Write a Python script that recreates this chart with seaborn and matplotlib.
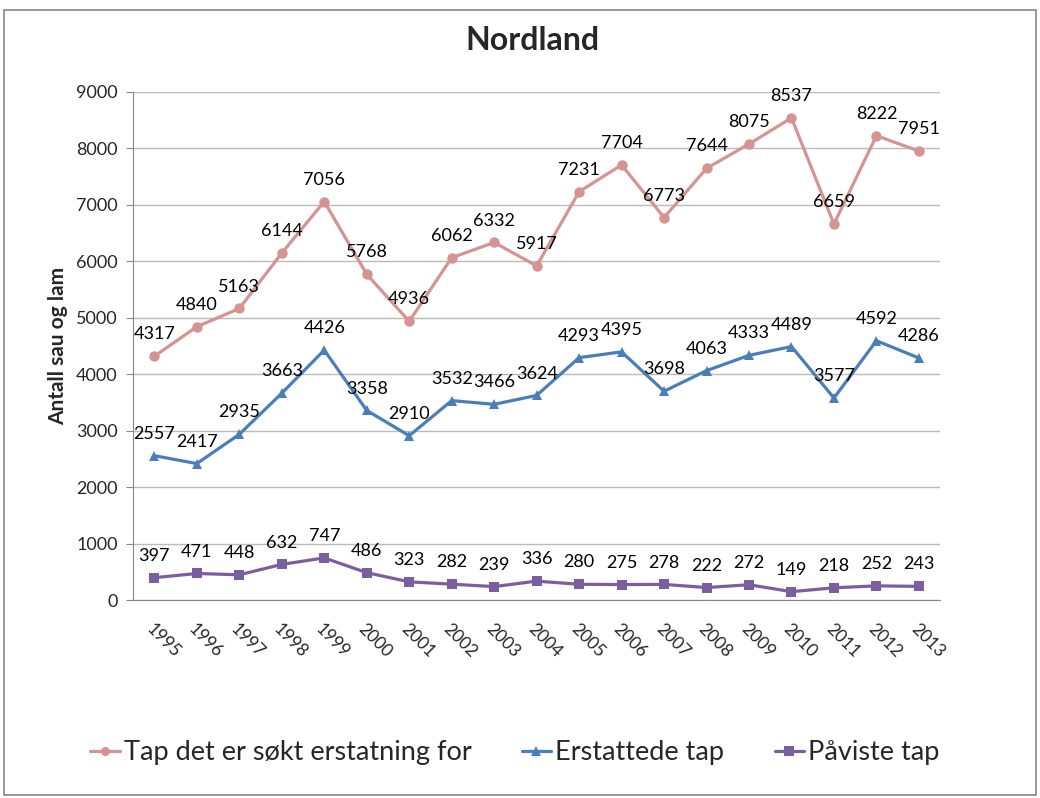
import matplotlib
matplotlib.use("Agg")
import matplotlib.pyplot as plt
from matplotlib.patches import Rectangle
import seaborn as sns
import pandas as pd
import numpy as np

sns.set_style("white")
plt.rcParams['font.family'] = ['Lato', 'DejaVu Sans']

years = [str(y) for y in range(1995, 2014)]
sokt = [4317, 4840, 5163, 6144, 7056, 5768, 4936, 6062, 6332, 5917,
        7231, 7704, 6773, 7644, 8075, 8537, 6659, 8222, 7951]
erstattede = [2557, 2417, 2935, 3663, 4426, 3358, 2910, 3532, 3466, 3624,
              4293, 4395, 3698, 4063, 4333, 4489, 3577, 4592, 4286]
paviste = [397, 471, 448, 632, 747, 486, 323, 282, 239, 336,
           280, 275, 278, 222, 272, 149, 218, 252, 243]

names = ["Tap det er søkt erstatning for", "Erstattede tap", "Påviste tap"]
colors = ["#D69393", "#4A7EBB", "#7B5E9F"]
markers = ["o", "^", "s"]

rows = []
for name, vals in zip(names, [sokt, erstattede, paviste]):
    for i, v in enumerate(vals):
        rows.append({"pos": i, "year": years[i], "value": v, "serie": name})
df = pd.DataFrame(rows)

fig = plt.figure(figsize=(10.4, 7.98), dpi=100)
ax = fig.add_axes([0.128, 0.248, 0.776, 0.637])

sns.lineplot(data=df, x="pos", y="value", hue="serie", style="serie",
             hue_order=names, style_order=names,
             palette=dict(zip(names, colors)),
             markers=dict(zip(names, markers)), dashes=False,
             linewidth=2.3, markersize=7.5, markeredgewidth=0, ax=ax,
             legend=False)

for name, vals, c in zip(names, [sokt, erstattede, paviste], colors):
    for i, v in enumerate(vals):
        ax.annotate(str(v), (i, v), xytext=(0, 10), textcoords="offset points",
                    ha="center", va="bottom", fontsize=13, color="black")

ax.set_xlim(-0.5, len(years) - 0.5)
ax.set_ylim(0, 9000)
ax.set_yticks(range(0, 9001, 1000))
ax.set_yticklabels([str(v) for v in range(0, 9001, 1000)], fontsize=13)
ax.set_xticks(range(len(years)))
ax.set_xticklabels(years, rotation=-45, ha="left", rotation_mode="anchor",
                   fontsize=12.5)
ax.set_xticks(np.arange(-0.5, len(years), 1), minor=True)
ax.tick_params(axis="x", which="major", length=0, pad=15)
ax.tick_params(axis="x", which="minor", length=6, color="#888888")
ax.tick_params(axis="y", length=5, color="#888888", left=True, pad=6)
ax.grid(axis="y", color="#BBBBBB", linewidth=1)
ax.set_axisbelow(True)
for s in ["top", "right"]:
    ax.spines[s].set_visible(False)
for s in ["left", "bottom"]:
    ax.spines[s].set_color("#888888")
ax.set_xlabel("")
ax.set_ylabel("Antall sau og lam", fontsize=15, fontweight="bold", labelpad=6)

fig.suptitle("Nordland", x=0.512, y=0.968, fontsize=23, fontweight="bold")

handles = [plt.Line2D([], [], color=c, marker=m, markersize=6.5, linewidth=2.3,
                      markeredgewidth=0) for c, m in zip(colors, markers)]
fig.legend(handles, names, loc="center", bbox_to_anchor=(0.495, 0.057), ncol=3,
           frameon=False, fontsize=19.5, handlelength=1.1, handletextpad=0.15,
           columnspacing=1.85)

fig.patches.append(Rectangle((0.004, 0.004), 0.992, 0.983, transform=fig.transFigure,
                             fill=False, edgecolor="#888888", linewidth=1.2))

fig.savefig("out.png", dpi=100)
